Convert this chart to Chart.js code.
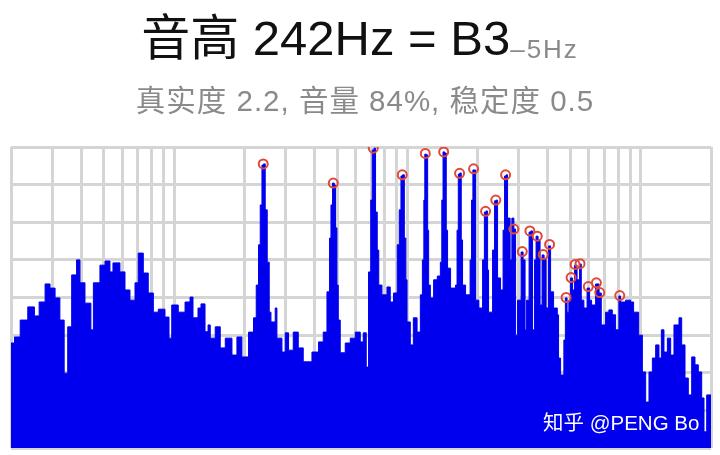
<!DOCTYPE html>
<html>
<head>
<meta charset="utf-8">
<script src="https://cdn.jsdelivr.net/npm/chart.js@4.4.1/dist/chart.umd.min.js"></script>
<style>
    body { margin: 0; background: #fff; }
    #wrap { position: relative; width: 720px; height: 455px; overflow: hidden;
        font-family: "Liberation Sans", "Noto Sans CJK SC", sans-serif; }
    #spec { position: absolute; left: 0; top: 0; }
    #title { position: absolute; left: 0; top: 8px; width: 720px; text-align: center;
        font-size: 49px; line-height: 60px; color: #111; white-space: nowrap; }
    #title span { font-size: 26px; letter-spacing: 2px; color: #8a8a8a; vertical-align: -3px; }
    #sub { position: absolute; left: 0; top: 84px; width: 730px; text-align: center;
        font-size: 29.5px; line-height: 34px; letter-spacing: 1px; color: #8a8a8a; white-space: nowrap; }
    #mark { position: absolute; left: 543px; top: 410px; font-size: 20.5px; line-height: 26px;
        color: #fff; white-space: nowrap; }
</style>
</head>
<body>
<div id="wrap">
    <canvas id="spec" width="720" height="455"></canvas>
    <div id="title">音高 242Hz = B3<span>–5Hz</span></div>
    <div id="sub">真实度 2.2, 音量 84%, 稳定度 0.5</div>
    <div id="mark">知乎 @PENG Bo</div>
</div>
<script>
// 频谱 频率 (Hz)
var specFreq = [
    20, 20.7, 21.9, 23.6, 25.2, 26.4, 28.0, 29.4, 30.9, 32.4,
    33.8, 35.0, 36.4, 38.2, 39.5, 41.5, 44.0, 45.1, 48.1, 50.6,
    53.1, 54.7, 58.6, 61.6, 64.7, 68.0, 70.2, 73.8, 77.5, 81.5,
    85.6, 91.4, 95.1, 97.7, 104.2, 111.4, 117.0, 120.5, 126.6, 130.4,
    135.7, 139.8, 142.9, 150.1, 157.7, 165.7, 177.0, 185.9, 195.3, 208.5,
    219.0, 224.9, 230.1, 234.0, 238.0, 241.8, 245.8, 250.7, 255.7, 260.1,
    271.3, 275.9, 289.9, 299.5, 309.4, 324.1, 340.5, 357.7, 389.8, 416.0,
    435.7, 452.0, 463.7, 470.2, 477.6, 485.7, 491.9, 498.8, 505.3, 515.4,
    541.4, 568.8, 597.6, 627.8, 646.6, 666.0, 681.3, 696.3, 706.7, 718.6,
    730.0, 742.4, 753.6, 777.8, 817.1, 844.1, 872.0, 904.4, 922.5, 938.1,
    953.0, 970.0, 984.4, 996.2, 1029, 1060, 1100, 1136, 1159, 1176,
    1187, 1205, 1221, 1233, 1254, 1295, 1343, 1384, 1404, 1421,
    1444, 1467, 1486, 1531, 1608, 1632, 1652, 1678, 1701, 1723,
    1775, 1856, 1883, 1908, 1934, 1959, 2024, 2099, 2137, 2173,
    2206, 2227, 2317, 2363, 2403, 2434, 2507, 2570, 2608, 2647,
    2686, 2754, 2803, 2859, 2907, 2965, 3070, 3131, 3193, 3241,
    3322, 3381, 3438, 3507, 3559, 3630, 3702, 3776, 3852, 3928,
    4026, 4107, 4230, 4388, 4444, 4534, 4682, 4752, 4833, 4919,
    5003, 5103, 5205, 5334, 5468, 5560, 5705, 5888, 6035, 6155,
    6403, 6628, 6773, 7067, 7300, 7551, 7800, 8058, 8195, 8609,
    9044, 9316, 9796, 10160, 10497, 10844, 11214, 11585, 11969, 12256,
    12574, 13003, 13434, 13878, 14580, 14978, 15474, 15986, 16532, 17078,
    17644, 18246, 18666, 19168, 20000
];
// 频谱 强度 (dB, 0 = 底部)
var specLevel = [
    27.9, 29.5, 34.0, 37.5, 35.1, 38.8, 43.6, 42.5, 39.9, 34.0,
    19.9, 32.2, 46.0, 50.0, 43.9, 38.5, 31.4, 43.9, 48.6, 49.7,
    46.8, 49.2, 46.8, 42.0, 39.3, 43.9, 51.8, 46.5, 41.2, 36.1,
    36.9, 34.8, 29.2, 38.0, 36.1, 38.8, 40.1, 34.6, 37.2, 38.3,
    30.9, 32.7, 29.2, 32.2, 26.6, 29.2, 24.7, 29.5, 24.2, 30.8,
    34.6, 43.3, 54.0, 64.6, 75.2, 75.5, 63.3, 49.4, 36.1, 33.5,
    37.2, 29.2, 25.5, 30.6, 26.0, 30.8, 26.6, 22.9, 25.5, 28.2,
    30.8, 41.5, 55.8, 64.6, 70.4, 69.9, 58.5, 43.3, 34.0, 25.3,
    27.9, 29.2, 30.8, 28.2, 30.6, 21.5, 46.8, 65.9, 79.2, 79.7,
    62.7, 52.6, 43.3, 40.7, 42.8, 38.8, 41.2, 54.0, 63.3, 72.3,
    72.6, 55.8, 44.7, 33.5, 27.4, 34.6, 30.8, 40.7, 50.0, 65.9,
    78.1, 77.9, 57.9, 43.3, 39.9, 44.7, 45.7, 49.4, 65.9, 78.7,
    78.4, 57.9, 47.8, 42.5, 43.3, 57.9, 72.8, 73.1, 55.3, 43.3,
    40.7, 50.0, 65.9, 73.9, 73.9, 39.3, 37.2, 50.0, 62.7, 63.0,
    47.3, 36.1, 52.6, 65.7, 65.9, 45.2, 42.0, 57.9, 72.3, 72.6,
    61.1, 50.0, 61.1, 58.2, 30.0, 39.3, 52.1, 50.0, 31.4, 39.3,
    57.4, 57.7, 31.4, 50.0, 56.3, 55.3, 38.0, 51.3, 50.2, 37.2,
    53.7, 41.5, 37.2, 35.4, 23.9, 19.4, 28.7, 39.9, 36.1, 39.3,
    45.2, 42.0, 48.6, 44.7, 48.9, 39.3, 37.2, 42.5, 39.3, 38.0,
    43.6, 41.2, 32.7, 36.1, 36.7, 35.4, 31.4, 40.4, 38.8, 39.3,
    38.8, 36.1, 30.0, 20.2, 12.2, 20.2, 23.9, 27.4, 23.9, 31.4,
    25.5, 29.2, 24.7, 32.7, 34.6, 27.4, 18.6, 14.1, 24.2, 22.1,
    20.2, 13.3, 4.3, 14.1, 14.1
];
// 谐波峰 (红圈)
var peakFreq = [241.0, 481.0, 713.7, 950.2, 1193, 1430, 1673, 1921, 2162, 2391, 2634, 2859, 3106,
    3348, 3601, 3821, 4066, 4786, 5028, 5230, 5494, 5958, 6454, 6674, 8130];
var peakLevel = [75.5, 70.4, 79.7, 72.6, 78.3, 78.7, 73.0, 74.2, 62.9, 65.9, 72.6, 58.2, 52.2,
    57.7, 56.3, 51.4, 54.1, 40.0, 45.3, 48.8, 49.0, 42.9, 43.9, 41.3, 40.5];
// 网格
var gridFreq = [20, 30, 40, 50, 60, 70, 80, 90, 100, 200, 300, 400, 500, 600, 700, 800, 900,
    1000, 2000, 3000, 4000, 5000, 6000, 7000, 8000, 9000, 10000, 20000];
var gridLevel = [0, 10, 20, 30, 40, 50, 60, 70, 80];

var spec = specFreq.map(function (f, i) { return {x: f, y: specLevel[i]}; });
var peaks = peakFreq.map(function (f, i) { return {x: f, y: peakLevel[i]}; });

var gridOpts = {color: '#d5d5d5', lineWidth: 3, drawTicks: false};

var ctx = document.getElementById('spec').getContext('2d');
var specChart = new Chart(ctx, {
    type: 'line',
    data: {
        datasets: [
            {
                type: 'scatter',
                data: peaks,
                order: 0,
                pointStyle: 'circle',
                pointRadius: 4.5,
                borderWidth: 2,
                borderColor: '#e0483a',
                backgroundColor: 'rgba(0,0,0,0)',
                clip: 0
            },
            {
                data: spec,
                order: 1,
                stepped: 'before',
                fill: 'start',
                borderColor: '#0000ee',
                backgroundColor: '#0000ee',
                borderWidth: 1,
                pointRadius: 0,
                clip: 0
            }
        ]
    },
    options: {
        responsive: false,
        animation: false,
        devicePixelRatio: 1,
        layout: {padding: {left: 11, right: 9, top: 147, bottom: 7}},
        plugins: {legend: {display: false}, tooltip: {enabled: false}},
        scales: {
            x: {
                type: 'logarithmic',
                min: 20,
                max: 20000,
                ticks: {display: false},
                grid: gridOpts,
                border: {display: false},
                afterBuildTicks: function (s) {
                    s.ticks = gridFreq.map(function (v) { return {value: v}; });
                }
            },
            y: {
                min: 0,
                max: 80,
                ticks: {display: false},
                grid: gridOpts,
                border: {display: false},
                afterBuildTicks: function (s) {
                    s.ticks = gridLevel.map(function (v) { return {value: v}; });
                }
            }
        }
    }
});
</script>
</body>
</html>
